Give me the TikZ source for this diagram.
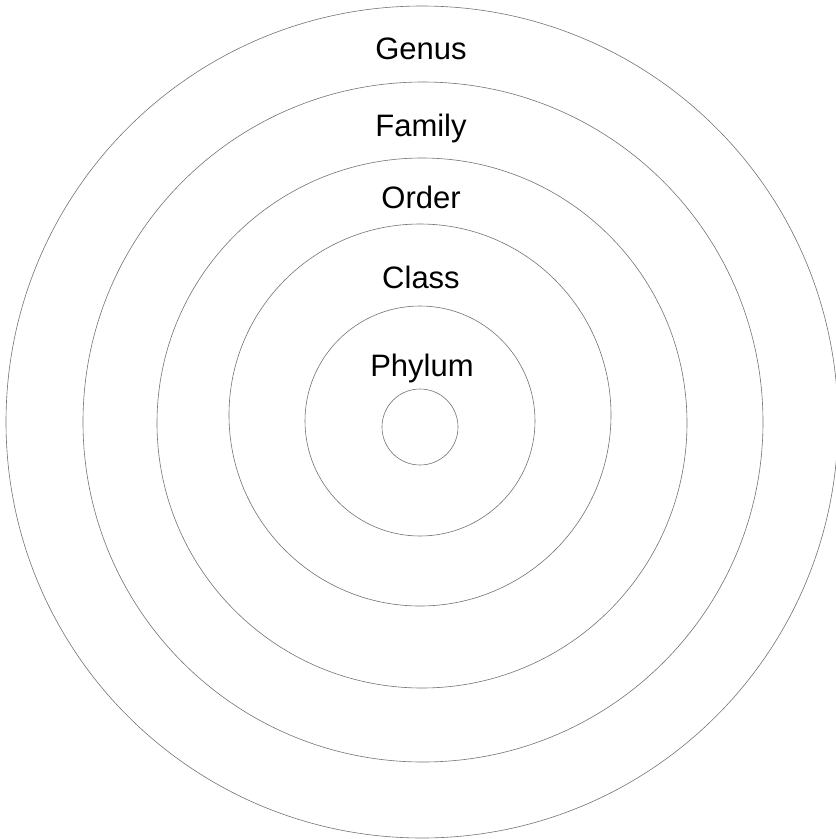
\documentclass[tikz,border=0pt]{standalone}
\usepackage{fontspec}
\setmainfont{Liberation Sans}
\usepackage{tikz}

\begin{document}
\begin{tikzpicture}[x=1pt,y=-1pt]
\tikzset{ring/.style={draw=black!55,line width=0.6pt},
  rank/.style={font=\fontsize{31}{36}\selectfont,anchor=base}}
\useasboundingbox (0,0) rectangle (836,839);
\draw[ring] (422,422) circle (416);
\draw[ring] (423,422) circle (340);
\draw[ring] (422,423) circle (265);
\draw[ring] (420,415) circle (191);
\draw[ring] (420,421) circle (115);
\draw[ring] (420,427) circle (38);
\node[rank] (genus) at (421,59) {Genus};
\node[rank] (family) at (421,136) {Family};
\node[rank] (order) at (421,208) {Order};
\node[rank] (class) at (421,288) {Class};
\node[rank] (phylum) at (422,376) {Phylum};
\end{tikzpicture}
\end{document}
